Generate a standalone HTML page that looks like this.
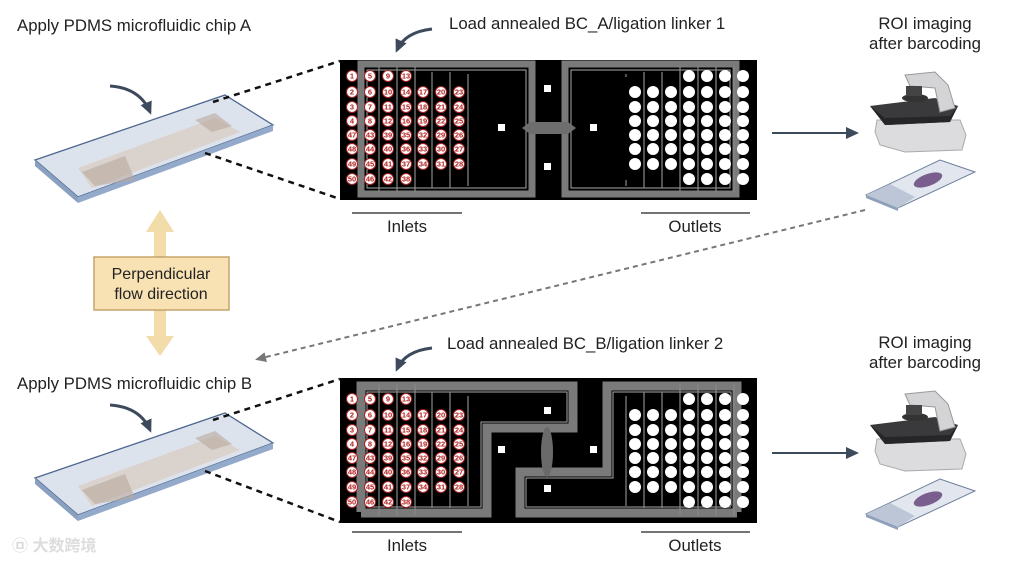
<!DOCTYPE html>
<html><head><meta charset="utf-8"><style>
body{margin:0;background:#fff;}
svg{display:block;font-family:"Liberation Sans","Noto Sans CJK SC",sans-serif;}
.n circle{fill:#fff;stroke:#a22;stroke-width:1}
.n text{fill:#b01c1c;font-size:7.5px;font-weight:bold;text-anchor:middle;dominant-baseline:central}
.lbl{font-size:16.8px;fill:#222}
</style></head><body>
<svg width="1011" height="562" viewBox="0 0 1011 562" xmlns="http://www.w3.org/2000/svg">
<defs>
<marker id="ah" markerUnits="userSpaceOnUse" markerWidth="14" markerHeight="14" refX="10" refY="7" orient="auto"><path d="M0,1 L13,7 L0,13 z" fill="#3d4a5c"/></marker>
<marker id="ag" markerUnits="userSpaceOnUse" markerWidth="12" markerHeight="12" refX="8" refY="6" orient="auto"><path d="M0,1 L11,6 L0,11 z" fill="#777"/></marker>
</defs>

<!-- titles -->
<text x="17" y="31" class="lbl">Apply PDMS microfluidic chip A</text>
<text x="17" y="389" class="lbl">Apply PDMS microfluidic chip B</text>
<text x="449" y="29" class="lbl">Load annealed BC_A/ligation linker 1</text>
<text x="447" y="349" class="lbl">Load annealed BC_B/ligation linker 2</text>
<text x="925" y="29" class="lbl" text-anchor="middle">ROI imaging</text>
<text x="925" y="49" class="lbl" text-anchor="middle">after barcoding</text>
<text x="925" y="348" class="lbl" text-anchor="middle">ROI imaging</text>
<text x="925" y="368" class="lbl" text-anchor="middle">after barcoding</text>

<!-- curved arrows -->
<path d="M110,86 Q140,88 150,112" fill="none" stroke="#3d4a5c" stroke-width="3" marker-end="url(#ah)"/>
<path d="M110,405 Q140,407 150,430" fill="none" stroke="#3d4a5c" stroke-width="3" marker-end="url(#ah)"/>
<path d="M432,29 Q405,32 397,50" fill="none" stroke="#3d4a5c" stroke-width="3" marker-end="url(#ah)"/>
<path d="M432,348 Q405,351 397,369" fill="none" stroke="#3d4a5c" stroke-width="3" marker-end="url(#ah)"/>

<!-- slide A -->
<g id="slide">
<polygon points="35,160 225,95 273,125 78,197" fill="#dde3ec" stroke="#4d6690" stroke-width="1.3"/>
<polygon points="35,160 78,197 78,203 35,166" fill="#8aa0c0"/>
<polygon points="78,197 273,125 273,131 78,203" fill="#94aacb"/>
<polygon points="78,168 215,118 240,132 92,188" fill="#d9cfc8" opacity="0.85"/>
<polygon points="82,172 125,156 135,180 95,186" fill="#b9a89c" opacity="0.6"/>
<polygon points="195,120 215,113 232,126 212,132" fill="#b9a89c" opacity="0.6"/>
</g>
<use href="#slide" y="318"/>

<!-- dashed connectors -->
<g stroke="#111" stroke-width="2.5" stroke-dasharray="6,5">
<line x1="213" y1="102" x2="340" y2="61"/>
<line x1="205" y1="153" x2="340" y2="199"/>
<line x1="213" y1="420" x2="340" y2="379"/>
<line x1="205" y1="471" x2="340" y2="522"/>
</g>

<!-- perpendicular -->
<polygon points="160,210 174,232 166,232 166,336 174,336 160,356 146,336 154,336 154,232 146,232" fill="#f2dcaa"/>
<rect x="94" y="257" width="135" height="53" fill="#f8e2b4" stroke="#c4a56c" stroke-width="1.5"/>
<text x="161" y="279" class="lbl" text-anchor="middle" style="font-size:16px">Perpendicular</text>
<text x="161" y="299" class="lbl" text-anchor="middle" style="font-size:16px">flow direction</text>

<!-- gray dotted arrow -->
<line x1="865" y1="210" x2="258" y2="359" stroke="#777" stroke-width="2" stroke-dasharray="5,4" marker-end="url(#ag)"/>

<!-- arrows to microscopes -->
<line x1="772" y1="133" x2="856" y2="133" stroke="#3d4a5c" stroke-width="2" marker-end="url(#ah)"/>
<line x1="772" y1="453" x2="856" y2="453" stroke="#3d4a5c" stroke-width="2" marker-end="url(#ah)"/>

<!-- Inlets/Outlets -->
<g stroke="#222" stroke-width="1.3">
<line x1="352" y1="213" x2="462" y2="213"/><line x1="641" y1="213" x2="750" y2="213"/>
<line x1="352" y1="532" x2="462" y2="532"/><line x1="641" y1="532" x2="750" y2="532"/>
</g>
<text x="407" y="232" class="lbl" text-anchor="middle">Inlets</text>
<text x="695" y="232" class="lbl" text-anchor="middle">Outlets</text>
<text x="407" y="551" class="lbl" text-anchor="middle">Inlets</text>
<text x="695" y="551" class="lbl" text-anchor="middle">Outlets</text>

<!-- CHIP A -->
<rect x="340" y="60" width="417" height="140" fill="#000"/>
<g fill="none" stroke="#7a7a7a">
<rect x="361" y="64" width="171" height="130" stroke-width="7"/>
<rect x="565" y="64" width="171" height="130" stroke-width="7"/>
<rect x="367" y="70" width="159" height="118" stroke-width="1" stroke="#aaa"/>
<rect x="571" y="70" width="159" height="118" stroke-width="1" stroke="#aaa"/>
<g stroke-width="1.2" stroke="#888">
<line x1="379" y1="66" x2="379" y2="192"/><line x1="397" y1="66" x2="397" y2="192"/><line x1="415" y1="66" x2="415" y2="192"/><line x1="432" y1="72" x2="432" y2="188"/><line x1="450" y1="72" x2="450" y2="188"/><line x1="468" y1="74" x2="468" y2="186"/>
<line x1="626" y1="74" x2="626" y2="186"/><line x1="644" y1="72" x2="644" y2="188"/><line x1="662" y1="72" x2="662" y2="188"/><line x1="680" y1="66" x2="680" y2="192"/><line x1="698" y1="66" x2="698" y2="192"/><line x1="716" y1="66" x2="716" y2="192"/><line x1="734" y1="66" x2="734" y2="192"/>
</g>
</g>
<polygon points="522,128 530,122 568,122 576,128 568,134 530,134" fill="#6e6e6e"/>
<rect x="470" y="77" width="48" height="103" fill="#000"/>
<rect x="579" y="77" width="48" height="103" fill="#000"/>
<g fill="#fff"><rect x="544" y="85" width="7" height="7"/><rect x="498" y="124" width="7" height="7"/><rect x="590" y="124" width="7" height="7"/><rect x="544" y="163" width="7" height="7"/></g>
<g fill="#fff">
<circle cx="635" cy="92" r="6"/><circle cx="635" cy="107" r="6"/><circle cx="635" cy="121" r="6"/><circle cx="635" cy="135" r="6"/><circle cx="635" cy="149" r="6"/><circle cx="635" cy="164" r="6"/>
<circle cx="653" cy="92" r="6"/><circle cx="653" cy="107" r="6"/><circle cx="653" cy="121" r="6"/><circle cx="653" cy="135" r="6"/><circle cx="653" cy="149" r="6"/><circle cx="653" cy="164" r="6"/>
<circle cx="671" cy="92" r="6"/><circle cx="671" cy="107" r="6"/><circle cx="671" cy="121" r="6"/><circle cx="671" cy="135" r="6"/><circle cx="671" cy="149" r="6"/><circle cx="671" cy="164" r="6"/>
<g id="r4"><circle cx="689" cy="76" r="6"/><circle cx="689" cy="92" r="6"/><circle cx="689" cy="107" r="6"/><circle cx="689" cy="121" r="6"/><circle cx="689" cy="135" r="6"/><circle cx="689" cy="149" r="6"/><circle cx="689" cy="164" r="6"/><circle cx="689" cy="179" r="6"/></g>
<use href="#r4" x="18"/><use href="#r4" x="36"/><use href="#r4" x="54"/>
</g>
<g class="n">
<circle cx="352" cy="76" r="5.5"/><text x="352" y="76">1</text><circle cx="352" cy="92" r="5.5"/><text x="352" y="92">2</text><circle cx="352" cy="107" r="5.5"/><text x="352" y="107">3</text><circle cx="352" cy="121" r="5.5"/><text x="352" y="121">4</text><circle cx="352" cy="135" r="5.5"/><text x="352" y="135">47</text><circle cx="352" cy="149" r="5.5"/><text x="352" y="149">48</text><circle cx="352" cy="164" r="5.5"/><text x="352" y="164">49</text><circle cx="352" cy="179" r="5.5"/><text x="352" y="179">50</text>
<circle cx="370" cy="76" r="5.5"/><text x="370" y="76">5</text><circle cx="370" cy="92" r="5.5"/><text x="370" y="92">6</text><circle cx="370" cy="107" r="5.5"/><text x="370" y="107">7</text><circle cx="370" cy="121" r="5.5"/><text x="370" y="121">8</text><circle cx="370" cy="135" r="5.5"/><text x="370" y="135">43</text><circle cx="370" cy="149" r="5.5"/><text x="370" y="149">44</text><circle cx="370" cy="164" r="5.5"/><text x="370" y="164">45</text><circle cx="370" cy="179" r="5.5"/><text x="370" y="179">46</text>
<circle cx="388" cy="76" r="5.5"/><text x="388" y="76">9</text><circle cx="388" cy="92" r="5.5"/><text x="388" y="92">10</text><circle cx="388" cy="107" r="5.5"/><text x="388" y="107">11</text><circle cx="388" cy="121" r="5.5"/><text x="388" y="121">12</text><circle cx="388" cy="135" r="5.5"/><text x="388" y="135">39</text><circle cx="388" cy="149" r="5.5"/><text x="388" y="149">40</text><circle cx="388" cy="164" r="5.5"/><text x="388" y="164">41</text><circle cx="388" cy="179" r="5.5"/><text x="388" y="179">42</text>
<circle cx="406" cy="76" r="5.5"/><text x="406" y="76">13</text><circle cx="406" cy="92" r="5.5"/><text x="406" y="92">14</text><circle cx="406" cy="107" r="5.5"/><text x="406" y="107">15</text><circle cx="406" cy="121" r="5.5"/><text x="406" y="121">16</text><circle cx="406" cy="135" r="5.5"/><text x="406" y="135">35</text><circle cx="406" cy="149" r="5.5"/><text x="406" y="149">36</text><circle cx="406" cy="164" r="5.5"/><text x="406" y="164">37</text><circle cx="406" cy="179" r="5.5"/><text x="406" y="179">38</text>
<circle cx="423" cy="92" r="5.5"/><text x="423" y="92">17</text><circle cx="423" cy="107" r="5.5"/><text x="423" y="107">18</text><circle cx="423" cy="121" r="5.5"/><text x="423" y="121">19</text><circle cx="423" cy="135" r="5.5"/><text x="423" y="135">32</text><circle cx="423" cy="149" r="5.5"/><text x="423" y="149">33</text><circle cx="423" cy="164" r="5.5"/><text x="423" y="164">34</text>
<circle cx="441" cy="92" r="5.5"/><text x="441" y="92">20</text><circle cx="441" cy="107" r="5.5"/><text x="441" y="107">21</text><circle cx="441" cy="121" r="5.5"/><text x="441" y="121">22</text><circle cx="441" cy="135" r="5.5"/><text x="441" y="135">29</text><circle cx="441" cy="149" r="5.5"/><text x="441" y="149">30</text><circle cx="441" cy="164" r="5.5"/><text x="441" y="164">31</text>
<circle cx="459" cy="92" r="5.5"/><text x="459" y="92">23</text><circle cx="459" cy="107" r="5.5"/><text x="459" y="107">24</text><circle cx="459" cy="121" r="5.5"/><text x="459" y="121">25</text><circle cx="459" cy="135" r="5.5"/><text x="459" y="135">26</text><circle cx="459" cy="149" r="5.5"/><text x="459" y="149">27</text><circle cx="459" cy="164" r="5.5"/><text x="459" y="164">28</text>
</g>

<!-- CHIP B -->
<rect x="340" y="378" width="417" height="145" fill="#000"/>
<g fill="none" stroke="#7a7a7a" stroke-width="9" stroke-linejoin="miter">
<polyline points="361,512 361,386 573,386 573,428 487,428 487,513 361,513"/>
<polyline points="737,512 737,386 607,386 607,472 520,472 520,513 737,513"/>
</g>
<g fill="none" stroke="#aaa" stroke-width="1">
<polyline points="367,506 367,392 567,392 567,422 481,422 481,507 367,507"/>
<polyline points="731,506 731,392 613,392 613,478 526,478 526,507 731,507"/>
</g>
<g stroke="#888" stroke-width="1.2">
<line x1="379" y1="384" x2="379" y2="515"/><line x1="397" y1="384" x2="397" y2="515"/><line x1="415" y1="384" x2="415" y2="515"/><line x1="432" y1="392" x2="432" y2="508"/><line x1="450" y1="392" x2="450" y2="508"/><line x1="468" y1="396" x2="468" y2="506"/>
<line x1="626" y1="396" x2="626" y2="506"/><line x1="644" y1="392" x2="644" y2="508"/><line x1="662" y1="392" x2="662" y2="508"/><line x1="680" y1="384" x2="680" y2="515"/><line x1="698" y1="384" x2="698" y2="515"/><line x1="716" y1="384" x2="716" y2="515"/><line x1="734" y1="384" x2="734" y2="515"/>
</g>
<ellipse cx="547" cy="452" rx="6" ry="25" fill="#6a6a6a"/>
<g fill="#fff"><rect x="544" y="407" width="7" height="7"/><rect x="498" y="446" width="7" height="7"/><rect x="590" y="446" width="7" height="7"/><rect x="544" y="485" width="7" height="7"/></g>
<g fill="#fff" transform="translate(0,323)">
<circle cx="635" cy="92" r="6"/><circle cx="635" cy="107" r="6"/><circle cx="635" cy="121" r="6"/><circle cx="635" cy="135" r="6"/><circle cx="635" cy="149" r="6"/><circle cx="635" cy="164" r="6"/>
<circle cx="653" cy="92" r="6"/><circle cx="653" cy="107" r="6"/><circle cx="653" cy="121" r="6"/><circle cx="653" cy="135" r="6"/><circle cx="653" cy="149" r="6"/><circle cx="653" cy="164" r="6"/>
<circle cx="671" cy="92" r="6"/><circle cx="671" cy="107" r="6"/><circle cx="671" cy="121" r="6"/><circle cx="671" cy="135" r="6"/><circle cx="671" cy="149" r="6"/><circle cx="671" cy="164" r="6"/>
<use href="#r4"/><use href="#r4" x="18"/><use href="#r4" x="36"/><use href="#r4" x="54"/>
</g>
<g class="n" transform="translate(0,323)">
<circle cx="352" cy="76" r="5.5"/><text x="352" y="76">1</text><circle cx="352" cy="92" r="5.5"/><text x="352" y="92">2</text><circle cx="352" cy="107" r="5.5"/><text x="352" y="107">3</text><circle cx="352" cy="121" r="5.5"/><text x="352" y="121">4</text><circle cx="352" cy="135" r="5.5"/><text x="352" y="135">47</text><circle cx="352" cy="149" r="5.5"/><text x="352" y="149">48</text><circle cx="352" cy="164" r="5.5"/><text x="352" y="164">49</text><circle cx="352" cy="179" r="5.5"/><text x="352" y="179">50</text>
<circle cx="370" cy="76" r="5.5"/><text x="370" y="76">5</text><circle cx="370" cy="92" r="5.5"/><text x="370" y="92">6</text><circle cx="370" cy="107" r="5.5"/><text x="370" y="107">7</text><circle cx="370" cy="121" r="5.5"/><text x="370" y="121">8</text><circle cx="370" cy="135" r="5.5"/><text x="370" y="135">43</text><circle cx="370" cy="149" r="5.5"/><text x="370" y="149">44</text><circle cx="370" cy="164" r="5.5"/><text x="370" y="164">45</text><circle cx="370" cy="179" r="5.5"/><text x="370" y="179">46</text>
<circle cx="388" cy="76" r="5.5"/><text x="388" y="76">9</text><circle cx="388" cy="92" r="5.5"/><text x="388" y="92">10</text><circle cx="388" cy="107" r="5.5"/><text x="388" y="107">11</text><circle cx="388" cy="121" r="5.5"/><text x="388" y="121">12</text><circle cx="388" cy="135" r="5.5"/><text x="388" y="135">39</text><circle cx="388" cy="149" r="5.5"/><text x="388" y="149">40</text><circle cx="388" cy="164" r="5.5"/><text x="388" y="164">41</text><circle cx="388" cy="179" r="5.5"/><text x="388" y="179">42</text>
<circle cx="406" cy="76" r="5.5"/><text x="406" y="76">13</text><circle cx="406" cy="92" r="5.5"/><text x="406" y="92">14</text><circle cx="406" cy="107" r="5.5"/><text x="406" y="107">15</text><circle cx="406" cy="121" r="5.5"/><text x="406" y="121">16</text><circle cx="406" cy="135" r="5.5"/><text x="406" y="135">35</text><circle cx="406" cy="149" r="5.5"/><text x="406" y="149">36</text><circle cx="406" cy="164" r="5.5"/><text x="406" y="164">37</text><circle cx="406" cy="179" r="5.5"/><text x="406" y="179">38</text>
<circle cx="423" cy="92" r="5.5"/><text x="423" y="92">17</text><circle cx="423" cy="107" r="5.5"/><text x="423" y="107">18</text><circle cx="423" cy="121" r="5.5"/><text x="423" y="121">19</text><circle cx="423" cy="135" r="5.5"/><text x="423" y="135">32</text><circle cx="423" cy="149" r="5.5"/><text x="423" y="149">33</text><circle cx="423" cy="164" r="5.5"/><text x="423" y="164">34</text>
<circle cx="441" cy="92" r="5.5"/><text x="441" y="92">20</text><circle cx="441" cy="107" r="5.5"/><text x="441" y="107">21</text><circle cx="441" cy="121" r="5.5"/><text x="441" y="121">22</text><circle cx="441" cy="135" r="5.5"/><text x="441" y="135">29</text><circle cx="441" cy="149" r="5.5"/><text x="441" y="149">30</text><circle cx="441" cy="164" r="5.5"/><text x="441" y="164">31</text>
<circle cx="459" cy="92" r="5.5"/><text x="459" y="92">23</text><circle cx="459" cy="107" r="5.5"/><text x="459" y="107">24</text><circle cx="459" cy="121" r="5.5"/><text x="459" y="121">25</text><circle cx="459" cy="135" r="5.5"/><text x="459" y="135">26</text><circle cx="459" cy="149" r="5.5"/><text x="459" y="149">27</text><circle cx="459" cy="164" r="5.5"/><text x="459" y="164">28</text>
</g>

<!-- microscopes -->
<g id="mic">
<path d="M877,120 L960,120 L966,135 L962,150 L905,152 L880,145 L875,132 Z" fill="#dcdcde" stroke="#aaa"/>
<path d="M870,106 L935,98 L958,106 L950,122 L885,125 Z" fill="#3a3a3c"/>
<path d="M870,106 L885,118 L950,116 L958,106 L950,122 L885,125 Z" fill="#262628"/>
<path d="M905,75 L935,72 L948,85 L955,108 L940,112 L935,88 L910,86 Z" fill="#d4d4d6" stroke="#999"/>
<ellipse cx="915" cy="98" rx="13" ry="4" fill="#333"/>
<rect x="906" y="86" width="16" height="10" fill="#444"/>
<path d="M866,195 L940,160 L975,172 L898,208 Z" fill="#e2e6ee" stroke="#6d7f9c"/>
<path d="M866,195 L898,208 L898,211 L866,198 Z" fill="#8fa0bb"/>
<path d="M866,195 L890,184 L915,197 L898,208 Z" fill="#bcc6d6"/>
<ellipse cx="928" cy="180" rx="15" ry="6" fill="#7a5f8e" transform="rotate(-20 928 180)"/>
</g>
<use href="#mic" y="319"/>

<!-- watermark -->
<text x="12" y="551" font-size="16" fill="#ddd" font-weight="bold">㉤ 大数跨境</text>
</svg>
</body></html>
